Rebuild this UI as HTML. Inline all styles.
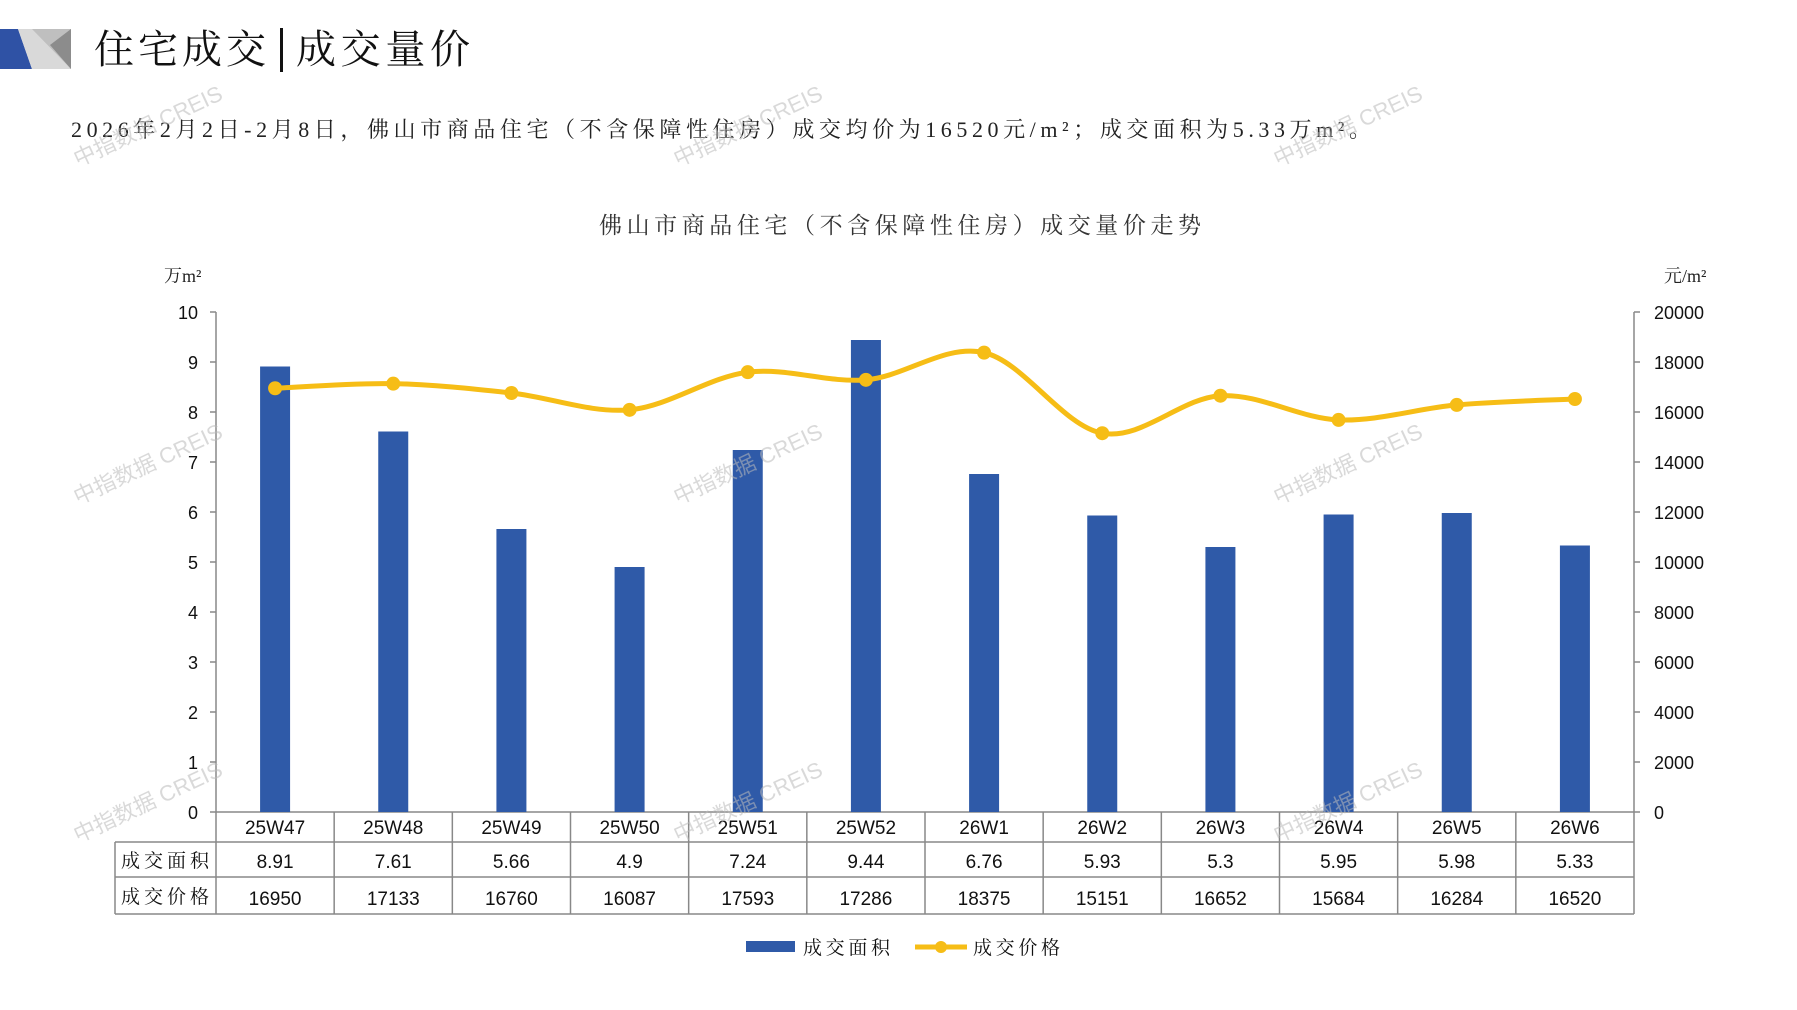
<!DOCTYPE html>
<html><head><meta charset="utf-8">
<style>
html,body{margin:0;padding:0;background:#fff;}
body{width:1797px;height:1010px;overflow:hidden;position:relative;}
svg{position:absolute;left:0;top:0;}
.k{font-family:"Liberation Serif","Noto Serif CJK SC",serif;}
.s{font-family:"Liberation Sans","Noto Sans CJK SC",sans-serif;}
</style></head>
<body>
<svg width="1797" height="1010" viewBox="0 0 1797 1010" xmlns="http://www.w3.org/2000/svg">
<polygon points="0,29 18,29 32,69 0,69" fill="#2f52a5"/>
<polygon points="18,29 71,29 71,69 32,69" fill="#d9d9d9"/>
<polygon points="32,29 71,29 71,69" fill="#bfbfbf"/>
<polygon points="50,45 71,29 71,69" fill="#8c8c8c"/>
<text x="94" y="63" class="k" font-size="40" fill="#111" textLength="172" lengthAdjust="spacing">住宅成交</text>
<rect x="280" y="28" width="3" height="44" fill="#111"/>
<text x="296" y="63" class="k" font-size="40" fill="#111" textLength="174" lengthAdjust="spacing">成交量价</text>
<text x="71" y="137" class="k" font-size="22" fill="#222" textLength="1300" lengthAdjust="spacing">2026年2月2日-2月8日，佛山市商品住宅（不含保障性住房）成交均价为16520元/m²；成交面积为5.33万m²。</text>
<text x="599" y="233" class="k" font-size="23" fill="#333" textLength="602" lengthAdjust="spacing">佛山市商品住宅（不含保障性住房）成交量价走势</text>
<text x="164" y="282" class="k" font-size="18" fill="#222">万m²</text>
<text x="1664" y="282" class="k" font-size="18" fill="#222">元/m²</text>
<g id="ax" stroke="#888" stroke-width="1.5" fill="none"></g>
<g id="lab" class="s" font-size="18" fill="#111"></g>
<g id="bars" fill="#2f5aa8"></g>
<path id="ln" fill="none" stroke="#f6bd16" stroke-width="5"/>
<g id="dots" fill="#f6bd16"></g>
<g id="tbl" class="s" font-size="19" fill="#111"></g>
<rect x="746" y="941" width="49" height="11" fill="#2f5aa8"/>
<text x="803" y="954" class="k" font-size="19" fill="#111" textLength="87" lengthAdjust="spacing">成交面积</text>
<line x1="915" y1="947" x2="967" y2="947" stroke="#f6bd16" stroke-width="5"/>
<circle cx="941" cy="947" r="6" fill="#f6bd16"/>
<text x="973" y="954" class="k" font-size="19" fill="#111" textLength="87" lengthAdjust="spacing">成交价格</text>
<g id="wm" class="s" font-size="22" fill="#bbb" opacity="0.55"></g>
</svg>
<script>
var NS="http://www.w3.org/2000/svg";
function el(p,t,a,txt){var e=document.createElementNS(NS,t);for(var k in a)e.setAttribute(k,a[k]);if(txt!==undefined)e.textContent=txt;document.getElementById(p).appendChild(e);return e;}
var L=216,R=1634,Y0=812,Y1=312,cw=(R-L)/12;
var cats=["25W47","25W48","25W49","25W50","25W51","25W52","26W1","26W2","26W3","26W4","26W5","26W6"];
var area=[8.91,7.61,5.66,4.9,7.24,9.44,6.76,5.93,5.3,5.95,5.98,5.33];
var areaT=["8.91","7.61","5.66","4.9","7.24","9.44","6.76","5.93","5.3","5.95","5.98","5.33"];
var price=[16950,17133,16760,16087,17593,17286,18375,15151,16652,15684,16284,16520];
el("ax","line",{x1:L,y1:Y1,x2:L,y2:Y0});
el("ax","line",{x1:R,y1:Y1,x2:R,y2:Y0});
for(var i=0;i<=10;i++){var y=Y0-i*50;
 el("ax","line",{x1:L-6,y1:y,x2:L,y2:y});el("ax","line",{x1:R,y1:y,x2:R+6,y2:y});
 el("lab","text",{x:198,y:y+7,"text-anchor":"end"},String(i));
 el("lab","text",{x:1654,y:y+7},String(i*2000));}
var T1=842,T2=877,T3=914,TL=115;
el("ax","line",{x1:L,y1:Y0,x2:R,y2:Y0});
el("ax","line",{x1:TL,y1:T1,x2:R,y2:T1});
el("ax","line",{x1:TL,y1:T2,x2:R,y2:T2});
el("ax","line",{x1:TL,y1:T3,x2:R,y2:T3});
el("ax","line",{x1:TL,y1:T1,x2:TL,y2:T3});
for(var i=0;i<=12;i++){var x=L+i*cw;el("ax","line",{x1:x,y1:Y0,x2:x,y2:T3});}
el("tbl","text",{x:121,y:867,"class":"k","font-size":"19",textLength:"88",lengthAdjust:"spacing"},"成交面积");
el("tbl","text",{x:121,y:903,"class":"k","font-size":"19",textLength:"88",lengthAdjust:"spacing"},"成交价格");
var pts=[];
for(var i=0;i<12;i++){var cx=L+cw*(i+0.5);
 var h=area[i]*50;el("bars","rect",{x:cx-15,y:Y0-h,width:30,height:h});
 el("tbl","text",{x:cx,y:834,"text-anchor":"middle"},cats[i]);
 el("tbl","text",{x:cx,y:868,"text-anchor":"middle"},areaT[i]);
 el("tbl","text",{x:cx,y:905,"text-anchor":"middle"},String(price[i]));
 pts.push([cx,Y0-price[i]*0.025]);}
var d="M"+pts[0][0]+","+pts[0][1];
for(var i=0;i<11;i++){var p0=pts[Math.max(0,i-1)],p1=pts[i],p2=pts[i+1],p3=pts[Math.min(11,i+2)];
 var c1=[p1[0]+(p2[0]-p0[0])/6,p1[1]+(p2[1]-p0[1])/6],c2=[p2[0]-(p3[0]-p1[0])/6,p2[1]-(p3[1]-p1[1])/6];
 d+=" C"+c1+" "+c2+" "+p2;}
document.getElementById("ln").setAttribute("d",d);
pts.forEach(function(p){el("dots","circle",{cx:p[0],cy:p[1],r:7});});
[[78,167],[678,167],[1278,167],[78,505],[678,505],[1278,505],[78,843],[678,843],[1278,843]].forEach(function(w){
 el("wm","text",{x:w[0],y:w[1],transform:"rotate(-25 "+w[0]+" "+w[1]+")"},"中指数据 CREIS");});
</script>
</body></html>
